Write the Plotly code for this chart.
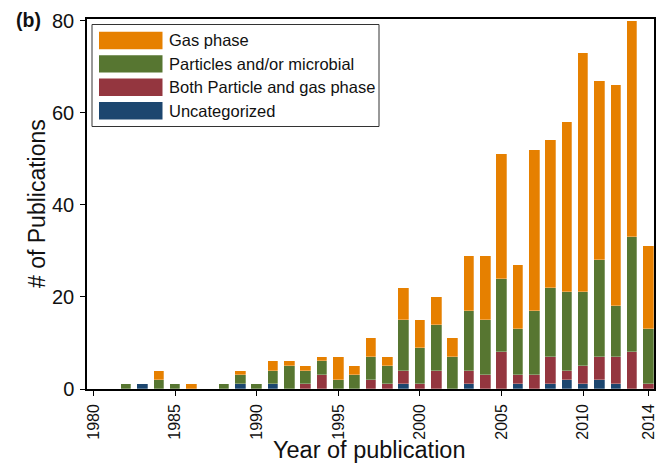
import plotly.graph_objects as go

# Publication counts per year, split by research focus
years = list(range(1982, 2015))
uncategorized = [0, 1, 0, 0, 0, 0, 0, 1, 0, 1, 0, 0, 0, 0, 0, 0, 0, 1, 0, 0, 0, 1,
                 0, 0, 1, 0, 1, 2, 1, 2, 1, 0, 0]
both_phases = [0, 0, 0, 0, 0, 0, 0, 0, 0, 0, 0, 1, 3, 0, 0, 2, 1, 3, 1, 4, 0, 3,
               3, 8, 2, 3, 6, 2, 4, 5, 6, 8, 1]
particles = [1, 0, 2, 1, 0, 0, 1, 2, 1, 3, 5, 3, 3, 2, 3, 5, 4, 11, 8, 10, 7, 13,
             12, 16, 10, 14, 15, 17, 16, 21, 11, 25, 12]
gas_phase = [0, 0, 2, 0, 1, 0, 0, 1, 0, 2, 1, 1, 1, 5, 2, 4, 2, 7, 6, 6, 4, 12,
             14, 27, 14, 35, 32, 37, 52, 39, 48, 47, 18]

x_ticks = [1980, 1985, 1990, 1995, 2000, 2005, 2010, 2014]
y_ticks = [0, 20, 40, 60, 80]

# stacking order bottom -> top
series = [
    ("Uncategorized", uncategorized, "#1c466f"),
    ("Both Particle and gas phase", both_phases, "#94363f"),
    ("Particles and/or microbial", particles, "#577631"),
    ("Gas phase", gas_phase, "#e68000"),
]

FONT = "Liberation Sans, Arial, Helvetica, sans-serif"
W, H = 661, 464
L, R, T, B = 87, 7, 19, 75

fig = go.Figure()
for name, vals, color in series:
    fig.add_trace(go.Bar(
        x=years, y=vals, name=name, width=0.65,
        marker=dict(color=color, line=dict(color="rgba(255,255,255,0.35)", width=0.8)),
        showlegend=False,
    ))


def px_x(px):
    return (px - L) / (W - L - R)


def px_y(py):
    return (H - B - py) / (H - T - B)


shapes = []
annotations = []

# legend box, listed top -> bottom
shapes.append(dict(type="rect", xref="paper", yref="paper",
                   x0=px_x(92), x1=px_x(379), y0=px_y(126.5), y1=px_y(24.5),
                   line=dict(color="#333333", width=1), fillcolor="white", layer="above"))
for i, (name, vals, color) in enumerate(reversed(series)):
    cy = 40.5 + i * 23.4
    shapes.append(dict(type="rect", xref="paper", yref="paper",
                       x0=px_x(99), x1=px_x(162.5), y0=px_y(cy + 8.7), y1=px_y(cy - 8.7),
                       line=dict(width=0), fillcolor=color, layer="above"))
    annotations.append(dict(text=name, xref="paper", yref="paper",
                            x=px_x(166.5), y=px_y(cy), xanchor="left", yanchor="middle",
                            showarrow=False, font=dict(family=FONT, size=16.5, color="#111111")))

# axis titles and panel label
annotations.append(dict(text="Year of publication", xref="paper", yref="paper",
                        x=px_x(369), y=px_y(450), xanchor="center", yanchor="middle",
                        showarrow=False, font=dict(family=FONT, size=23.5, color="#111111")))
annotations.append(dict(text="# of Publications", xref="paper", yref="paper",
                        x=px_x(37), y=px_y(204), xanchor="center", yanchor="middle",
                        textangle=-90, showarrow=False,
                        font=dict(family=FONT, size=23, color="#111111")))
annotations.append(dict(text="<b>(b)</b>", xref="paper", yref="paper",
                        x=px_x(28.5), y=px_y(20), xanchor="center", yanchor="middle",
                        showarrow=False, font=dict(family=FONT, size=19.5, color="#111111")))

fig.update_layout(
    width=W, height=H,
    margin=dict(l=L, r=R, t=T, b=B, autoexpand=False),
    barmode="stack", bargap=0,
    plot_bgcolor="white", paper_bgcolor="white",
    shapes=shapes, annotations=annotations,
    xaxis=dict(range=[1979.6, 2014.34], tickvals=x_ticks, ticktext=[str(v) for v in x_ticks],
               tickangle=-90, ticks="outside", ticklen=5, tickcolor="black",
               tickfont=dict(family=FONT, size=16, color="#111111"),
               showline=True, linecolor="black", linewidth=1.5, mirror=True,
               showgrid=False, zeroline=False, ticklabelstandoff=2),
    yaxis=dict(range=[0, 80.4], tickvals=y_ticks, ticks="outside", ticklen=5,
               tickcolor="black", tickfont=dict(family=FONT, size=20, color="#111111"),
               showline=True, linecolor="black", linewidth=1.5, mirror=True,
               showgrid=False, zeroline=False, ticklabelstandoff=2),
)

fig.write_html("out.html")
